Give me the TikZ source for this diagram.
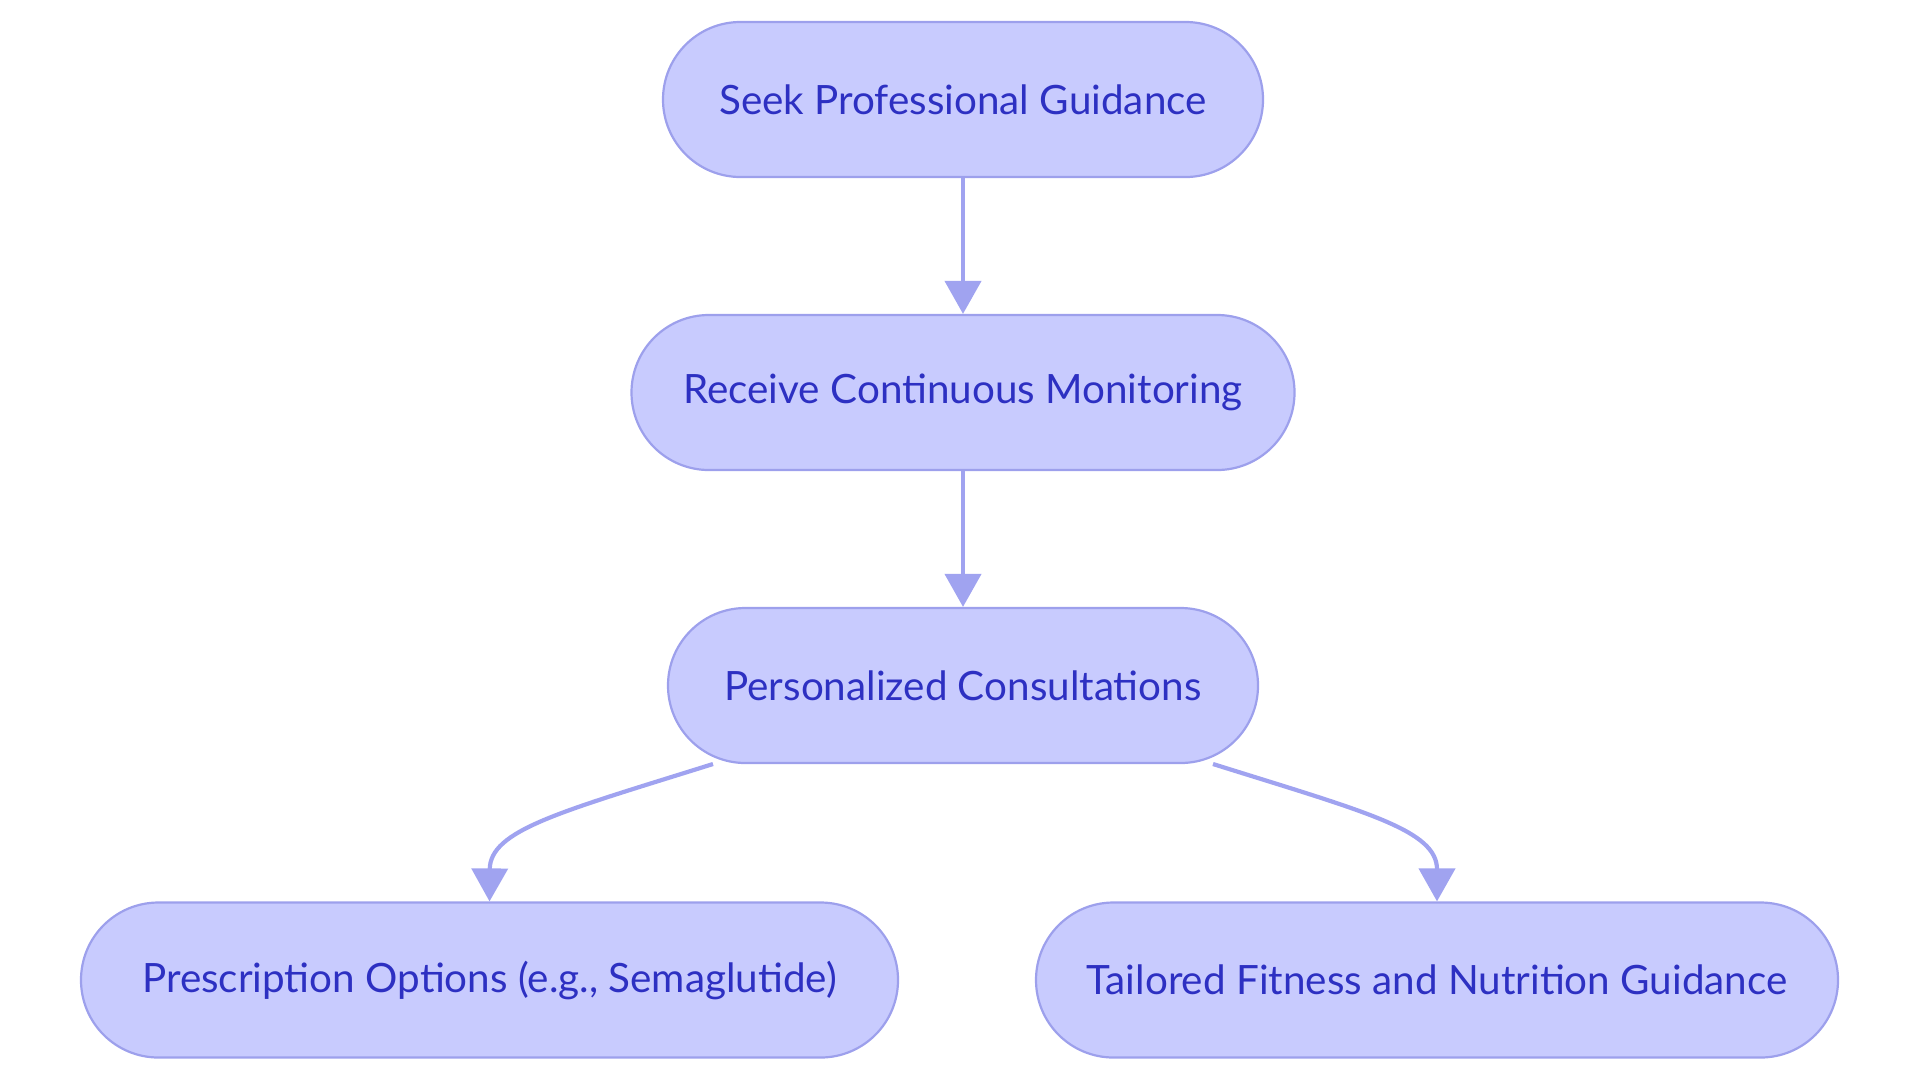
\documentclass[tikz,border=0pt]{standalone}
\usepackage{fontspec}
\setmainfont{Lato}
\usetikzlibrary{arrows.meta,calc}
\definecolor{boxfill}{HTML}{C8CBFE}
\definecolor{boxline}{HTML}{9DA0EC}
\definecolor{boxtext}{HTML}{2D30C2}
\definecolor{edgecol}{HTML}{A0A3F0}
\tikzset{
  stadium/.style={draw=boxline, fill=boxfill, line width=1.1pt, rounded corners=38.7pt,
    minimum height=77.5pt, inner sep=0pt, text=boxtext,
    font=\fontsize{20.2}{24}\selectfont},
  flow/.style={draw=edgecol, line width=2.1pt,
    -{Triangle[width=18pt,length=16.5pt]}},
}
\begin{document}
\begin{tikzpicture}[x=0.5pt,y=-0.5pt]
\useasboundingbox (0,0) rectangle (1920,1083);
\node[stadium, minimum width=300pt] (n1) at (963,99.5) {Seek Professional Guidance};
\node[stadium, minimum width=331.5pt] (n2) at (963,392.5) {Receive Continuous Monitoring};
\node[stadium, minimum width=295pt] (n3) at (963,685.5) {Personalized Consultations};
\node[stadium, minimum width=408.5pt] (n4) at (489.5,980) {Prescription Options (e.g., Semaglutide)};
\node[stadium, minimum width=401pt] (n5) at (1437,980) {Tailored Fitness and Nutrition Guidance};
\coordinate (s3l) at (713,764);
\coordinate (s3r) at (1213,764);
\draw[flow] (n1.south) -- (n2.north);
\draw[flow] (n2.south) -- (n3.north);
\draw[flow] (s3l) .. controls (560,812) and (490,830) .. (n4.north);
\draw[flow] (s3r) .. controls (1366,812) and (1437,830) .. (n5.north);
\end{tikzpicture}
\end{document}
